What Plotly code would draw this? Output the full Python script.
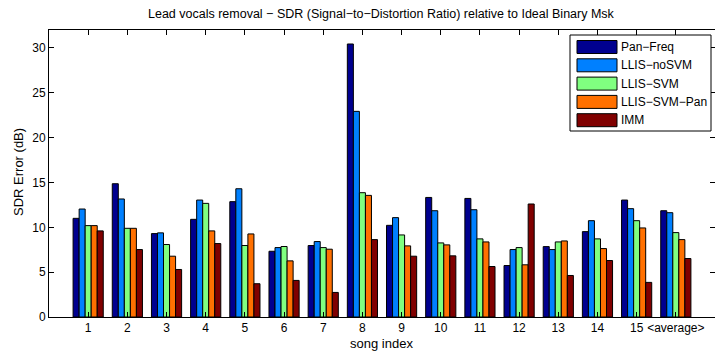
import plotly.graph_objects as go

categories = ["1", "2", "3", "4", "5", "6", "7", "8", "9", "10", "11", "12", "13", "14", "15", "<average>"]
series_names = ["Pan\u2212Freq", "LLIS\u2212noSVM", "LLIS\u2212SVM", "LLIS\u2212SVM\u2212Pan", "IMM"]
series_colors = ["#00008F", "#0080FF", "#80FF80", "#FF7000", "#800000"]

pan_freq    = [11.0, 14.86, 9.30, 10.89, 12.86, 7.33, 7.97, 30.44, 10.22, 13.33, 13.22, 5.74, 7.85, 9.52, 13.04, 11.85]
llis_nosvm  = [12.04, 13.16, 9.38, 13.04, 14.30, 7.74, 8.41, 22.93, 11.08, 11.85, 11.96, 7.52, 7.52, 10.74, 12.08, 11.63]
llis_svm    = [10.19, 9.89, 8.08, 12.67, 7.97, 7.86, 7.74, 13.86, 9.15, 8.26, 8.71, 7.74, 8.37, 8.71, 10.74, 9.41]
llis_svm_pan = [10.19, 9.89, 6.78, 9.60, 9.26, 6.26, 7.56, 13.56, 7.93, 8.04, 8.37, 5.82, 8.48, 7.63, 9.93, 8.63]
imm         = [9.60, 7.52, 5.30, 8.19, 3.71, 4.08, 2.74, 8.63, 6.78, 6.82, 5.63, 12.60, 4.63, 6.30, 3.86, 6.52]

series_values = [pan_freq, llis_nosvm, llis_svm, llis_svm_pan, imm]
yticks = [0, 5, 10, 15, 20, 25, 30]

W, H = 715, 351
L, R, T, B = 49, 0, 30, 34
PW, PH = W - L - R, H - T - B

def px(x):
    return (x - L) / PW

def py(y):
    return (H - B - y) / PH

xpos = list(range(1, len(categories) + 1))

fig = go.Figure()
for name, color, vals in zip(series_names, series_colors, series_values):
    fig.add_trace(go.Bar(
        x=xpos, y=vals, name=name,
        marker=dict(color=color, line=dict(color="black", width=1)),
        showlegend=False,
    ))

font_family = "Liberation Sans, Arial, Helvetica, sans-serif"

fig.update_layout(
    width=W, height=H,
    margin=dict(l=L, r=R, t=T, b=B),
    paper_bgcolor="white", plot_bgcolor="white",
    barmode="group", bargap=0.23, bargroupgap=0.0,
    font=dict(family=font_family, size=12, color="black"),
    xaxis=dict(
        range=[0, 17], tickmode="array", tickvals=xpos, ticktext=categories,
        showline=True, linecolor="black", linewidth=1, mirror="ticks",
        ticks="inside", ticklen=5, tickcolor="black", showgrid=False, zeroline=False,
        tickfont=dict(size=12),
    ),
    yaxis=dict(
        range=[0, 32], tickmode="array", tickvals=yticks,
        showline=True, linecolor="black", linewidth=1, mirror="ticks",
        ticks="inside", ticklen=5, tickcolor="black", showgrid=False, zeroline=False,
        tickfont=dict(size=12),
    ),
)

annotations = [
    dict(text="Lead vocals removal \u2212 SDR (Signal\u2212to\u2212Distortion Ratio) relative to Ideal Binary Msk",
         xref="paper", yref="paper", x=px(381), y=py(14), xanchor="center", yanchor="middle",
         showarrow=False, font=dict(size=12.5)),
    dict(text="SDR Error (dB)", xref="paper", yref="paper", x=px(18), y=py(172),
         xanchor="center", yanchor="middle", textangle=-90, showarrow=False, font=dict(size=13)),
    dict(text="song index", xref="paper", yref="paper", x=px(381), y=py(343),
         xanchor="center", yanchor="middle", showarrow=False, font=dict(size=13)),
]

shapes = [
    dict(type="rect", xref="paper", yref="paper", x0=px(570), x1=px(711), y0=py(131), y1=py(35),
         fillcolor="white", line=dict(color="black", width=1), layer="above"),
]
row0, step = 47, 18.3
for i, (name, color) in enumerate(zip(series_names, series_colors)):
    cy = row0 + i * step
    shapes.append(dict(type="rect", xref="paper", yref="paper", x0=px(577), x1=px(617),
                       y0=py(cy + 6.5), y1=py(cy - 6.5), fillcolor=color,
                       line=dict(color="black", width=1), layer="above"))
    annotations.append(dict(text=name, xref="paper", yref="paper", x=px(619), y=py(cy),
                            xanchor="left", yanchor="middle", showarrow=False,
                            font=dict(size=12)))

fig.update_layout(annotations=annotations, shapes=shapes)
fig.write_html("out.html", config={"displayModeBar": False},
               post_script="document.body.style.margin='0px';document.body.style.overflow='hidden';")
